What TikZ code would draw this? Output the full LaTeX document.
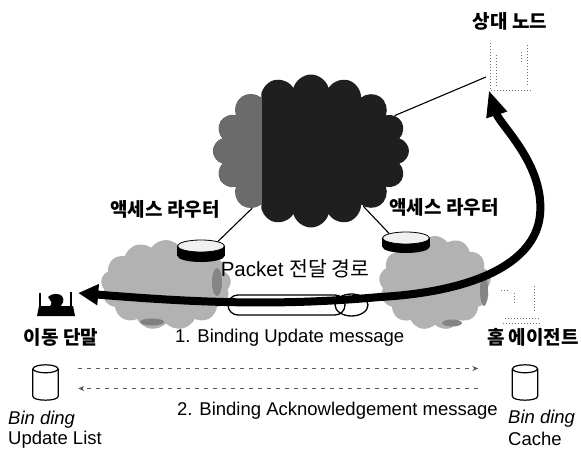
\documentclass[tikz,border=0pt]{standalone}
\usepackage{fontspec}
\setmainfont{Liberation Sans}
\newfontfamily\kr{Noto Sans CJK KR}
\usetikzlibrary{shapes.symbols,shapes.geometric,arrows.meta,calc}
\begin{document}
\begin{tikzpicture}[x=1pt,y=-1pt,
  krlabel/.style={inner sep=0pt, font=\kr\bfseries\fontsize{19}{22}\selectfont},
  enlabel/.style={inner sep=0pt, anchor=west, font=\fontsize{18.5}{21}\selectfont},
  enitalic/.style={enlabel, font=\itshape\fontsize{18.5}{21}\selectfont},
  lancloud/.style={cloud, cloud puffs=13, cloud puff arc=110, fill=black!30, draw=none, inner sep=0pt},
  rtop/.style={ellipse, draw=black, line width=0.8pt, fill=black!6, minimum width=47pt, minimum height=12pt, inner sep=0pt},
  rbase/.style={ellipse, fill=black, minimum width=47pt, minimum height=12pt, inner sep=0pt},
  link/.style={line width=1.1pt},
  route/.style={line width=8pt, {Triangle[length=20pt,width=20pt]}-{Triangle[length=26pt,width=20pt]}},
  msg/.style={draw=black!65, line width=0.8pt, dash pattern=on 4pt off 5pt, -{Stealth[length=6pt,width=5pt]}},
  storebox/.style={inner sep=0pt, draw=none, minimum width=25pt, minimum height=35pt},
  drum/.style={line width=1.2pt},
  faint/.style={draw=black!55, line width=0.7pt, dash pattern=on 1pt off 2pt},
  icon/.style={inner sep=0pt, draw=none}]
\useasboundingbox (0,0) rectangle (581,449);

% access networks
\node[lancloud, minimum width=130pt, minimum height=90pt] (lanL) at (166,285) {};
\node[lancloud, minimum width=112pt, minimum height=94pt] (lanR) at (435,283) {};
\fill[black!50] (152,322) ellipse (12 and 3.5);
\fill[black!48] (217,282) ellipse (5 and 14);
\fill[black!48] (484,290) ellipse (4 and 16);
\fill[black!48] (452,323) ellipse (10 and 3.5);

% core network
\node[cloud, cloud puffs=16, cloud puff arc=150, aspect=1.28, fill=black!88,
      minimum width=196pt, minimum height=153pt, inner sep=0pt,
      path picture={\fill[black!58] (path picture bounding box.north west)
        rectangle ([xshift=49pt]path picture bounding box.south west);}]
      (internet) at (311,151) {};

% correspondent node and home agent (faint terminals)
\node[icon, minimum width=41pt, minimum height=48pt] (cn) at (509.5,66) {};
\draw[faint] (490,43) -- (490,90) -- (532,90);
\draw[faint] (496,55) -- (496,86);
\draw[faint] (527,45) -- (527,86);
\draw[faint] (521,52) -- (521,62);
\node[icon, minimum width=40pt, minimum height=40pt] (ha) at (518,305) {};
\draw[faint] (534,286) -- (534,312);
\draw[faint] (501,290) -- (508,290);
\draw[faint] (514,293) -- (514,305);
\draw[faint] (505,318) -- (540,318);
\draw[faint] (503,323) -- (540,323);

% mobile node
\node[icon, minimum width=40pt, minimum height=24pt] (mn) at (56,304) {};
\fill (37,316) -- (75,316) -- (73,306) -- (39,306) -- cycle;
\draw[line width=1.6pt] (40,307) -- (40,293) (71,307) -- (71,292);
\fill (48,297) .. controls (52,293) and (59,293) .. (62,296)
      .. controls (65,300) and (63,305) .. (58,308) -- (47,309)
      .. controls (51,306) and (53,303) .. (50,300) -- cycle;

% access routers
\node[rbase] (rlb) at (201,256) {};
\fill (rlb.west |- 0,246) rectangle (rlb.east);
\node[rtop] (rl) at (201,246) {};
\node[rbase] (rrb) at (406,247) {};
\fill (rrb.west |- 0,238) rectangle (rrb.east);
\node[rtop] (rr) at (406,238) {};

% links from the core
\draw[link] (internet) -- (rl.north east);
\draw[link] (internet) -- (rr.north west);
\coordinate (cnport) at (486,77);
\draw[link] (internet) -- (cnport);

% tunnel
\node[draw, line width=1.3pt, rounded corners=10pt, fill=white, minimum width=117pt,
      minimum height=20pt, inner sep=0pt] (tunnel) at (286.5,305) {};
\node[draw, ellipse, line width=1.3pt, minimum width=33pt, minimum height=22pt,
      inner sep=0pt] (tunnelend) at (351.5,305) {};

% packet route
\draw[route] ([shift={(2,-11)}]mn.east) .. controls (200,303) and (280,306) .. (380,297)
      .. controls (470,292) and (535,265) .. (540,215)
      .. controls (545,165) and (500,125) .. (cn.south west);

% labels
\node[krlabel] (cnlabel) at (510,21) {상대 노드};
\node[krlabel] (arl) at (165,209) {액세스 라우터};
\node[krlabel] (arr) at (444,207) {액세스 라우터};
\node[inner sep=0pt, font=\fontsize{20.5}{23}\selectfont] (pathlabel) at (295,269) {Packet {\kr 전달 경로}};
\node[krlabel] (mnlabel) at (61,337) {이동 단말};
\node[krlabel] (halabel) at (533,337) {홈 에이전트};
\node[enlabel] (bumsg) at (175,338) {1. Binding Update message};
\node[enlabel] (bamsg) at (177,411) {2. Binding Acknowledgement message};

% binding stores
\node[storebox] (bul) at (45.5,382.5) {};
\node[storebox] (bc) at (525,382.5) {};
\foreach \c in {bul,bc}{
  \draw[drum] ($(\c.north)+(0,4)$) ellipse (12.5 and 4);
  \draw[drum] ($(\c.north west)+(0,4)$) -- ($(\c.south west)+(0,-4)$)
        .. controls ($(\c.south west)+(0,1.3)$) and ($(\c.south east)+(0,1.3)$)
        .. ($(\c.south east)+(0,-4)$) -- ($(\c.north east)+(0,4)$);
}
\node[enitalic] (bul1) at (8,420) {Bin ding};
\node[enlabel] (bul2) at (8,440) {Update List};
\node[enitalic] (bc1) at (508,419) {Bin ding};
\node[enlabel] (bc2) at (508,439) {Cache};

% signalling messages
\coordinate (bu0) at ([shift={(20,-14)}]bul.east);
\coordinate (bu1) at ([shift={(-34,-14)}]bc.west);
\coordinate (ba0) at ([shift={(-34,6)}]bc.west);
\coordinate (ba1) at ([shift={(20,6)}]bul.east);
\draw[msg] (bu0) -- (bu1);
\draw[msg] (ba0) -- (ba1);
\end{tikzpicture}
\end{document}
